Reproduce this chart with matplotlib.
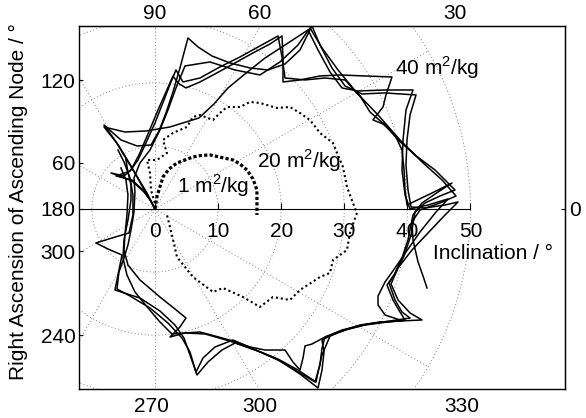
import numpy as np
import matplotlib.pyplot as plt
from matplotlib.patches import Circle

plt.rcParams['font.family'] = ['Liberation Sans', 'DejaVu Sans']
plt.rcParams['mathtext.fontset'] = 'custom'
plt.rcParams['mathtext.rm'] = 'Liberation Sans'
plt.rcParams['font.size'] = 15

# inclination vector components in degrees: ix = i*cos(RAAN), iy = i*sin(RAAN)

# 1 m^2/kg
ix_1 = [0.0, 0.3, 1.27, 2.22, 3.49, 6.02, 7.29, 8.72, 12.36, 13.47, 14.58, 15.53, 16.16, 16.16, 16.16]
iy_1 = [0.0, 1.9, 5.07, 6.34, 7.29, 8.24, 8.48, 8.56, 7.77, 7.13, 6.18, 4.76, 3.01, 0.32, -0.95]

# 20 m^2/kg
ix_20 = [0.2, -0.63, -0.79, -1.27, 0.32, 1.90, 1.27, 2.85, 5.07, 6.02, 7.13, 9.19, 10.30, 11.41,
         13.47, 15.06, 16.64, 19.33, 21.39, 22.98, 24.56, 26.15, 28.21, 29.79, 30.43, 31.38,
         32.01, 30.90, 30.43, 28.21, 27.73, 26.15, 22.98, 21.39, 18.70, 16.64, 13.95, 10.78,
         9.19, 6.02, 3.49, 2.69, 1.90]
iy_20 = [0.2, 3.01, 5.71, 7.77, 7.77, 8.87, 10.94, 12.05, 13.0, 14.58, 14.90, 14.10, 15.21, 16.16,
         16.16, 16.96, 16.80, 16.01, 16.16, 15.21, 14.10, 12.05, 10.46, 6.66, 3.49, 0.95,
         -0.63, -3.80, -6.50, -8.08, -10.14, -10.78, -12.84, -14.42, -13.95, -15.53, -13.95, -12.52,
         -13.15, -10.78, -7.61, -4.12, -0.95]

# 40 m^2/kg, four runs
ix_40a = [0, -0.95, -2.22, -3.80, -5.71, -8.08, -5.39, -2.85, -0.63, 0.63, 1.74, 2.85, 3.96, 5.23,
          6.82, 9.03, 11.89, 15.06, 17.91, 20.61, 22.98, 24.88, 26.15, 28.05, 30.12, 32.81, 36.46,
          41.37, 40.42, 39.94, 39.78, 40.10, 40.58, 42.80, 45.97, 48.03, 45.97, 43.27, 40.73, 38.52,
          37.41, 38.52, 40.42, 42.32, 38.83, 35.66, 32.49, 29.01, 26.47, 26.79, 26.47, 25.84, 22.98,
          19.81, 16.33, 12.68, 10.62, 8.40, 6.66, 5.55, 4.60, 3.17, 0.79, -2.38, -6.34, -5.86, -5.23,
          -7.45, -9.35, -6.82, -4.12, -3.49, -3.49, -3.96, -4.91, -5.86]
iy_40a = [0, 1.74, 3.96, 6.82, 9.99, 13.31, 10.94, 9.99, 10.14, 12.36, 15.22, 18.54, 22.35, 27.10,
          25.68, 24.25, 23.14, 22.35, 22.03, 22.98, 25.20, 29.01, 25.99, 22.35, 19.50, 18.23, 18.39,
          18.07, 14.90, 10.94, 6.97, 3.01, 0.32, 0.16, 0.63, 1.11, -0.95, -3.80, -6.50, -9.35,
          -11.89, -14.42, -16.48, -17.59, -17.75, -17.91, -18.39, -19.50, -20.76, -22.67, -25.52, -28.37, -26.15,
          -24.09, -22.51, -21.24, -22.35, -24.25, -26.31, -23.14, -20.45, -18.39, -16.17, -14.11, -12.84, -10.46, -7.29,
          -6.34, -5.39, -4.60, -3.80, -0.95, 2.22, 4.91, 7.45, 9.35]

ix_40b = [0, -0.63, -1.74, -3.65, -6.97, -4.91, -3.80, -2.54, -1.11, 0.48, 1.74, 2.85, 3.65, 4.91,
          7.13, 9.51, 12.68, 15.53, 18.23, 20.13, 20.29, 20.29, 22.98, 26.15, 29.32, 33.29, 37.56,
          36.61, 36.14, 35.03, 34.55, 36.14, 38.04, 39.15, 39.47, 39.63, 39.94, 43.59, 47.07, 44.86,
          42.32, 40.89, 40.10, 39.15, 37.88, 36.77, 37.72, 38.83, 39.63, 36.93, 33.29, 30.12, 26.95,
          24.88, 23.78, 23.46, 22.98, 21.87, 20.61, 17.44, 15.06, 12.36, 9.51, 7.13, 4.76, 2.38,
          3.96, 4.91, 3.17, 0.79, -2.38, -4.28, -4.91, -4.76, -4.44, -4.28, -4.60, -5.39]
iy_40b = [0, 1.27, 2.69, 4.44, 5.71, 5.23, 6.18, 8.56, 11.89, 15.69, 18.54, 21.08, 19.97, 19.18,
          20.13, 21.40, 23.14, 24.73, 26.15, 27.42, 23.93, 20.13, 20.45, 21.08, 21.24, 21.08, 20.92,
          18.07, 16.17, 14.74, 14.11, 13.47, 11.73, 9.35, 6.18, 3.01, 0.63, 2.38, 4.12, 2.69,
          0.95, -0.95, -4.91, -7.77, -10.46, -12.05, -14.42, -16.33, -17.59, -17.91, -18.39, -19.18, -20.29,
          -21.40, -21.71, -23.62, -25.52, -24.25, -22.35, -22.35, -21.87, -20.92, -20.13, -19.50, -19.65, -20.29,
          -18.70, -17.28, -15.85, -13.95, -11.25, -8.88, -6.50, -4.12, -0.95, 2.22, 4.60, 6.50]

ix_40c = [0, -1.27, -2.69, -4.44, -6.18, -8.08, -4.76, -1.43, 2.38, 6.97, 9.35, 11.57, 14.27, 17.44,
          20.61, 24.25, 25.84, 27.74, 29.64, 32.18, 36.46, 40.89, 39.78, 39.31, 39.15, 39.63, 40.42,
          43.27, 46.44, 44.54, 42.00, 39.78, 38.04, 36.46, 35.35, 35.35, 36.46, 39.31, 35.98, 32.81,
          29.64, 26.95, 26.47, 26.15, 25.36, 22.19, 19.02, 15.85, 12.36, 7.93, 4.76, 2.69, 0.79,
          -1.11, -3.17, -4.44, -5.07, -4.91, -4.28, -3.80, -3.80, -4.28, -4.60]
iy_40c = [0, 2.54, 4.91, 7.77, 10.62, 13.0, 12.20, 12.36, 13.0, 14.42, 16.64, 19.18, 21.40, 23.93,
          25.99, 28.37, 25.20, 21.71, 19.18, 18.70, 18.86, 18.86, 15.69, 10.94, 6.18, 2.22, 0,
          0.63, 1.59, -0.48, -3.65, -6.82, -9.35, -11.57, -13.79, -15.22, -16.80, -17.75, -17.91, -18.39,
          -19.18, -20.29, -22.03, -24.73, -27.42, -25.52, -23.62, -22.35, -21.08, -19.81, -19.65, -19.81, -17.91,
          -15.69, -13.16, -10.46, -7.77, -4.91, -1.74, 1.43, 3.80, 5.86, 7.77]

# longest run: one and a half turns, ends in the lower right
ix_40d = [0, -0.63, -1.90, -3.65, -6.18, -3.96, -2.69, -1.43, 0, 1.43, 2.54, 3.33, 4.44, 7.13,
          10.30, 13.47, 16.64, 19.50, 20.13, 20.61, 23.78, 26.95, 30.12, 32.49, 34.08, 36.46, 38.52,
          41.21, 44.38, 47.55, 45.17, 42.80, 41.21, 40.58, 39.47, 38.20, 37.09, 38.04, 39.15, 40.42,
          37.25, 33.76, 30.59, 27.74, 26.47, 25.84, 25.52, 22.67, 19.50, 16.01, 12.36, 9.51, 7.61,
          6.50, 5.55, 4.28, 2.06, -0.79, -3.96, -6.02, -5.71, -4.91, -4.28, -3.80, -3.33, -3.17,
          -3.33, -2.38, -0.79, 0.79, 2.06, 3.33, 4.76, 8.72, 12.68, 16.64, 19.81, 22.67, 24.57,
          26.47, 29.01, 31.86, 35.35, 38.83, 42.32, 45.49, 47.71, 45.17, 42.00, 40.73, 40.89, 41.69,
          42.48, 43.11]
iy_40d = [0, 1.27, 3.01, 4.60, 5.23, 6.02, 7.77, 10.46, 13.63, 17.28, 20.13, 22.03, 20.13, 20.76,
          22.51, 24.09, 25.84, 27.42, 24.09, 20.76, 20.45, 20.76, 20.45, 17.91, 15.37, 13.31, 10.94,
          8.56, 6.18, 3.01, 2.06, 0.95, -0.48, -4.12, -7.45, -9.99, -11.73, -14.42, -16.33, -17.28,
          -17.75, -18.23, -19.02, -20.13, -23.14, -25.84, -27.42, -25.52, -23.78, -22.35, -20.76, -21.87, -23.62,
          -25.84, -22.67, -20.45, -18.07, -15.69, -13.79, -12.68, -9.99, -7.77, -5.71, -3.33, -0.48, 2.69,
          4.91, 7.29, 9.35, 12.52, 15.69, 19.18, 22.67, 23.30, 22.03, 21.24, 23.30, 25.99, 28.69,
          25.52, 22.03, 18.54, 14.90, 10.94, 7.45, 4.60, 2.06, 0.95, -0.16, -2.06, -4.91, -8.40,
          -10.62, -12.52]

r_grid = [10, 20, 30, 40, 50]
spoke_deg = np.arange(0, 360, 30)

fig = plt.figure(figsize=(5.86, 4.18), dpi=100)
ax = fig.add_axes([79 / 586, 29 / 418, 486 / 586, 363 / 418])
ax.set_xlim(-12.04, 64.98)
ax.set_ylim(-28.53, 29.0)

# polar grid
grid_kw = dict(color='0.5', lw=0.7, ls=(0, (1, 2.5)))
for r in r_grid:
    ax.add_patch(Circle((0, 0), r, fill=False, ec=grid_kw['color'], lw=grid_kw['lw'], ls=grid_kw['ls']))
for a in np.deg2rad(spoke_deg):
    ax.plot([0, 50 * np.cos(a)], [0, 50 * np.sin(a)], **grid_kw)

# inclination axis along the 0/180 line
ax.plot([-50, 50], [0, 0], color='k', lw=0.8)
r_ticks = [0, 10, 20, 30, 40, 50]
ax.plot(r_ticks, np.zeros(len(r_ticks)), ls='none', marker=2, ms=4, mew=0.8, color='k')
for r in r_ticks:
    ax.text(r, -4.4, str(r), ha='center', va='baseline')
ax.text(44.1, -7.9, 'Inclination / °', ha='left', va='baseline')

# trajectories
for xs, ys in [(ix_40a, iy_40a), (ix_40b, iy_40b), (ix_40c, iy_40c), (ix_40d, iy_40d)]:
    ax.plot(xs, ys, color='k', lw=1.1)
ax.plot(ix_20, iy_20, color='k', lw=1.5, ls=(0, (1, 1.4)))
ax.plot(ix_1, iy_1, color='k', lw=2.3, ls=(0, (1, 0.7)))

ax.text(38.0, 21.2, r'40 m$^2$/kg', va='baseline')
ax.text(16.2, 6.5, r'20 m$^2$/kg', va='baseline')
ax.text(3.5, 2.5, r'1 m$^2$/kg', va='baseline')

# RAAN labels where the spokes leave the frame
ax.set_yticks([20.4, 7.3, 0, -6.7, -20.0])
ax.set_yticklabels(['120', '60', '180', '300', '240'])
ax.set_xticks([-0.5, 16.6, 48.6])
ax.set_xticklabels(['270', '300', '330'])
ax.tick_params(axis='y', direction='in', length=3, pad=2.5)
ax.tick_params(axis='x', direction='in', length=0, pad=5.5)

top = ax.secondary_xaxis('top')
top.set_xticks([0, 16.6, 47.5])
top.set_xticklabels(['90', '60', '30'])
top.tick_params(direction='in', length=0, pad=2)

right = ax.secondary_yaxis('right')
right.set_yticks([0])
right.set_yticklabels(['0'])
right.tick_params(direction='in', length=3, pad=3)

ax.set_ylabel('Right Ascension of Ascending Node / °')
ax.yaxis.set_label_coords(-0.105, 0.515)

for s in ax.spines.values():
    s.set_linewidth(1.0)

fig.savefig('out.png', dpi=100)
